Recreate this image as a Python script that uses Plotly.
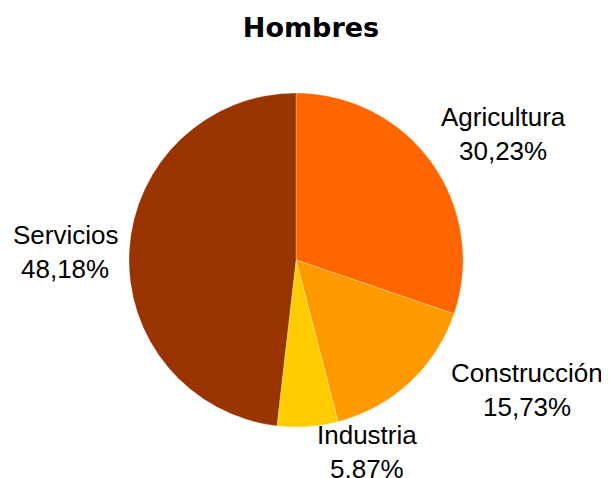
import plotly.graph_objects as go

labels = ["Agricultura", "Construcción", "Industria", "Servicios"]
values = [30.23, 15.73, 5.87, 48.18]
value_text = ["30,23%", "15,73%", "5,87%", "48,18%"]
colors = ["#FF6600", "#FF9900", "#FFCC00", "#993300"]

W, H = 609, 478
OFF = 8  # page body margin offset
cx, cy, r = 296 - OFF, 260 - OFF, 167

fig = go.Figure(go.Pie(
    labels=labels, values=values, sort=False, direction="clockwise", rotation=0,
    marker=dict(colors=colors, line=dict(color="rgba(255,255,255,0.5)", width=0.5)),
    textinfo="none", hoverinfo="label+percent", showlegend=False,
    domain=dict(x=[(cx - r) / W, (cx + r) / W], y=[(H - cy - r) / H, (H - cy + r) / H]),
))

label_pos = [(503, 117), (527, 373), (367, 435), (65, 235)]
font = dict(family="Liberation Sans, Arial, sans-serif", size=26, color="#000000")
for lab, vt, (x, y) in zip(labels, value_text, label_pos):
    x, y = x - OFF, y - OFF
    fig.add_annotation(text=lab, x=x / W, y=1 - y / H, xref="paper", yref="paper",
                       showarrow=False, font=font, xanchor="center", yanchor="middle")
    fig.add_annotation(text=vt, x=x / W, y=1 - (y + 34) / H, xref="paper", yref="paper",
                       showarrow=False, font=font, xanchor="center", yanchor="middle")

fig.update_layout(
    width=W, height=H, margin=dict(l=0, r=0, t=0, b=0),
    paper_bgcolor="white", plot_bgcolor="white",
    title=dict(text="<b>Hombres</b>", x=(311 - OFF) / W, xanchor="center", y=1 - (28 - OFF) / H,
               yanchor="middle",
               font=dict(family="DejaVu Sans, sans-serif", size=27, color="#000000")),
)
fig.write_html("out.html")
